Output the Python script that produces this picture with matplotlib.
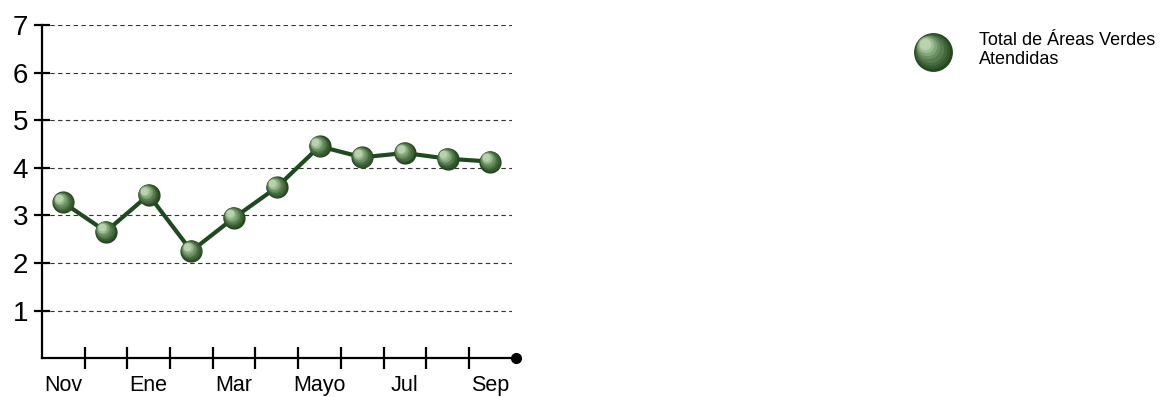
import matplotlib.pyplot as plt
from matplotlib.lines import Line2D
from matplotlib.transforms import offset_copy

months = ["Nov", "Dic", "Ene", "Feb", "Mar", "Abr", "Mayo", "Jun", "Jul", "Ago", "Sep"]
values = [3.27, 2.66, 3.43, 2.25, 2.95, 3.59, 4.45, 4.22, 4.31, 4.19, 4.13]
label_months = ["Nov", "Ene", "Mar", "Mayo", "Jul", "Sep"]
yticks = [1, 2, 3, 4, 5, 6, 7]
legend_label = "Total de Áreas Verdes\nAtendidas"

font = ["Liberation Sans", "DejaVu Sans"]
line_col = "#1f4a1f"
# sphere shading: dark rim to light highlight
shades = ["#27481f", "#34592f", "#45693e", "#577b4f", "#6b8f62", "#82a579", "#9cbc93", "#b7d2ad"]

fig = plt.figure(figsize=(11.63, 3.97), dpi=100)
ax = fig.add_axes([0.036, 0.098, 0.404, 0.839])

x = list(range(len(months)))
ax.plot(x, values, color=line_col, lw=3, zorder=3)

# fake 3D balls: stacked circles shrinking toward upper-left
for k, c in enumerate(shades):
    size = 16 - k * 1.5
    tr = offset_copy(ax.transData, fig=fig, x=-k * 0.45, y=k * 0.45, units="points")
    ax.plot(x, values, ls="none", marker="o", ms=size, mfc=c, mec="none",
            transform=tr, zorder=4 + k)

ax.set_xlim(-0.5, 10.5)
ax.set_ylim(0, 7)
ax.set_yticks(yticks)
ax.set_yticklabels([str(v) for v in yticks], family=font, fontsize=20)
ax.set_xticks([i + 0.5 for i in range(len(months) - 1)])
ax.set_xticklabels([])
for m in label_months:
    i = months.index(m)
    ax.text(i, -0.36, m, ha="center", va="top", family=font, fontsize=15.5)

ax.tick_params(axis="y", direction="inout", length=12, width=1.6, pad=4)
ax.tick_params(axis="x", direction="inout", length=16, width=1.6)
ax.yaxis.grid(True, ls=(0, (4, 3)), color="#333333", lw=0.8)
ax.set_axisbelow(True)
for s in ["top", "right"]:
    ax.spines[s].set_visible(False)
for s in ["left", "bottom"]:
    ax.spines[s].set_linewidth(1.6)
ax.plot([10.5], [0], marker="o", ms=7, color="black", clip_on=False,
        transform=offset_copy(ax.transData, fig=fig, x=3, y=0, units="points"))

# legend ball
lx, ly = 0.8025, 0.868
for k, c in enumerate(shades):
    tr = offset_copy(fig.transFigure, fig=fig, x=-k * 0.9, y=k * 0.9, units="points")
    fig.add_artist(Line2D([lx], [ly], ls="none", marker="o", ms=28 - k * 2.8,
                          mfc=c, mec="none", transform=tr))
fig.text(0.842, 0.875, legend_label, ha="left", va="center", family=font,
         fontsize=13, linespacing=1.15)

fig.savefig("out.png", dpi=100)
